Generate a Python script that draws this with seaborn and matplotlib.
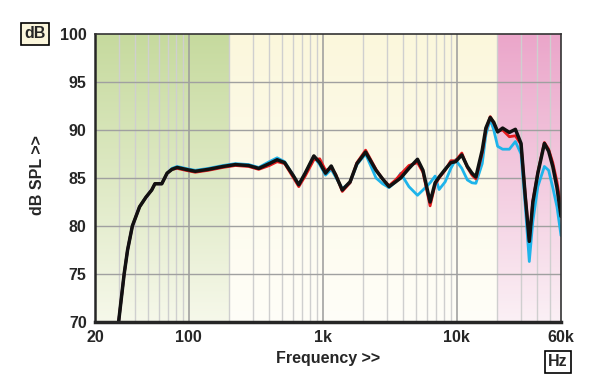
import matplotlib
matplotlib.use("Agg")
import matplotlib.pyplot as plt
import matplotlib.ticker as mticker
import numpy as np
import pandas as pd
import seaborn as sns

# frequency points (Hz)
freq = [30, 33, 35, 38, 43, 48, 53, 56, 63, 69, 75, 82, 95, 112, 140, 180, 223,
        280, 333, 400, 457, 520, 600, 663, 740, 859, 950, 1050, 1158, 1250, 1400,
        1600, 1800, 2090, 2500, 2800, 3126, 3500, 3820, 4400, 5098, 5600, 6330,
        6900, 7390, 8200, 9040, 9800, 10920, 12000, 13000, 13900, 15500, 16500,
        17790, 18900, 20200, 22000, 24700, 27400, 30200, 32500, 34800, 37000,
        40300, 45100, 48500, 52100, 56000, 60000]

black = [70.0, 75.0, 77.5, 80.0, 82.0, 83.0, 83.75, 84.4, 84.4, 85.5, 85.9, 86.1,
         85.9, 85.7, 85.9, 86.2, 86.4, 86.3, 86.0, 86.5, 86.9, 86.6, 85.3, 84.3,
         85.5, 87.3, 86.6, 85.5, 86.25, 85.3, 83.75, 84.6, 86.5, 87.7, 85.8, 84.9,
         84.1, 84.6, 85.0, 86.0, 86.95, 85.8, 82.5, 84.5, 85.1, 85.9, 86.6, 86.7,
         87.4, 86.2, 85.5, 85.1, 87.9, 90.2, 91.3, 90.8, 89.8, 90.2, 89.75, 90.07,
         88.6, 83.0, 78.4, 82.5, 85.5, 88.6, 87.8, 86.2, 84.0, 81.0]

red = [70.0, 75.0, 77.5, 80.0, 82.0, 83.0, 83.75, 84.4, 84.4, 85.5, 85.9, 86.0,
       85.8, 85.6, 85.8, 86.1, 86.3, 86.2, 85.9, 86.3, 86.7, 86.5, 85.1, 84.1,
       85.2, 86.9, 87.0, 85.8, 86.0, 85.4, 83.6, 84.5, 86.6, 87.9, 85.9, 84.9,
       84.2, 84.8, 85.4, 86.3, 86.6, 85.6, 82.1, 84.3, 85.0, 85.8, 86.8, 86.8,
       87.6, 86.1, 85.3, 84.9, 87.6, 90.0, 91.4, 90.7, 89.9, 90.0, 89.3, 89.4,
       88.5, 83.2, 78.6, 82.6, 85.6, 88.7, 88.0, 86.6, 84.6, 82.0]

blue = [70.0, 75.0, 77.5, 80.0, 82.0, 83.0, 83.75, 84.4, 84.4, 85.5, 86.0, 86.2,
        86.0, 85.8, 86.0, 86.3, 86.5, 86.4, 86.1, 86.7, 87.1, 86.7, 85.3, 84.3,
        85.5, 87.2, 86.4, 85.3, 85.9, 85.1, 83.9, 84.5, 86.4, 87.5, 85.0, 84.4,
        84.0, 84.6, 85.5, 84.1, 83.2, 83.75, 84.5, 85.2, 83.8, 84.6, 86.0, 86.9,
        86.0, 84.8, 84.5, 84.45, 86.5, 89.5, 91.1, 90.0, 88.3, 88.0, 88.0, 88.8,
        87.5, 82.0, 76.3, 80.5, 84.1, 86.2, 85.8, 84.0, 82.0, 79.0]

df = pd.DataFrame({"freq": freq, "black": black, "red": red, "blue": blue})

x_ticks = [20, 100, 1000, 10000, 60000]
x_labels = ["20", "100", "1k", "10k", "60k"]
y_ticks = [70, 75, 80, 85, 90, 95, 100]

sns.set_style("white")
plt.rcParams["font.family"] = ["Liberation Sans", "DejaVu Sans"]

fig = plt.figure(figsize=(6, 3.89), dpi=100)
pos = [95 / 600, 1 - 322 / 389, 466 / 600, 288 / 389]

# background bands with vertical fade
bg = fig.add_axes(pos, zorder=0)
ncol, nrow = 600, 120
fcols = 10 ** (np.log10(20) + (np.arange(ncol) + 0.5) / ncol * np.log10(3000))
t = np.linspace(0, 1, nrow)[:, None]

def hexrgb(h):
    return np.array([int(h[i:i + 2], 16) / 255 for i in (1, 3, 5)])

bands = [(200, "#c6da9e", "#f6f8ea"), (20000, "#fbf7dc", "#fffef8"), (1e9, "#eba6ca", "#fbf0f5")]
img = np.zeros((nrow, ncol, 3))
for j, f in enumerate(fcols):
    for lim, top, bot in bands:
        if f < lim:
            img[:, j, :] = hexrgb(top) * (1 - t) + hexrgb(bot) * t
            break
bg.imshow(img, aspect="auto", extent=[0, 1, 0, 1], interpolation="bilinear")
bg.set_axis_off()

ax = fig.add_axes(pos, zorder=1)
ax.set_facecolor("none")

line_kw = dict(solid_joinstyle="round", solid_capstyle="round")
sns.lineplot(data=df, x="freq", y="blue", ax=ax, color="#1eb4ea", lw=2.0, zorder=3, **line_kw)
sns.lineplot(data=df, x="freq", y="red", ax=ax, color="#e41a1c", lw=2.0, zorder=4, **line_kw)
sns.lineplot(data=df, x="freq", y="black", ax=ax, color="#111111", lw=2.5, zorder=5, **line_kw)

ax.set_xscale("log")
ax.set_xlim(20, 60000)
ax.set_ylim(70, 100)
ax.xaxis.set_major_locator(mticker.FixedLocator(x_ticks))
ax.xaxis.set_major_formatter(mticker.FixedFormatter(x_labels))
minor = [m * d for d in (10, 100, 1000, 10000) for m in range(2, 10) if 20 < m * d < 60000 and m * d not in x_ticks]
ax.xaxis.set_minor_locator(mticker.FixedLocator(minor))
ax.xaxis.set_minor_formatter(mticker.NullFormatter())
ax.set_yticks(y_ticks)

for xv in [100, 1000, 10000]:
    ax.axvline(xv, color="#9a9a9a", lw=1.1, zorder=1)
for xv in minor:
    ax.axvline(xv, color="#cfcfcf", lw=1.0, zorder=1)
for yv in y_ticks[1:-1]:
    ax.axhline(yv, color="#a0a0a0", lw=1.0, zorder=1)

ax.tick_params(axis="both", which="major", direction="out", length=5, width=1.2,
               color="black", labelsize=11.5, pad=1)
ax.tick_params(axis="x", which="minor", direction="out", length=3, width=1.0, color="black")
for lab in ax.get_xticklabels() + ax.get_yticklabels():
    lab.set_fontweight("bold")

for side in ["top", "right"]:
    ax.spines[side].set_color("#333333")
    ax.spines[side].set_linewidth(1.2)
ax.spines["left"].set_linewidth(1.8)
ax.spines["bottom"].set_linewidth(2.5)
for s in ax.spines.values():
    s.set_zorder(6)

ax.set_xlabel("")
ax.set_ylabel("")
fig.text(328 / 600, 1 - 359 / 389, "Frequency >>", ha="center", va="center",
         fontsize=11.5, fontweight="bold")
fig.text(38 / 600, 1 - 175 / 389, "dB SPL >>", ha="center", va="center",
         rotation=90, fontsize=11.5, fontweight="bold")
fig.text(35 / 600, 1 - 34 / 389, "dB", ha="center", va="center", fontsize=11.5,
         fontweight="bold",
         bbox=dict(boxstyle="square,pad=0.22", fc="#fbf6dc", ec="black", lw=1.2))
fig.text(558 / 600, 1 - 362 / 389, "Hz", ha="center", va="center", fontsize=11.5,
         fontweight="bold",
         bbox=dict(boxstyle="square,pad=0.22", fc="white", ec="black", lw=1.2))

fig.savefig("out.png", dpi=100)
